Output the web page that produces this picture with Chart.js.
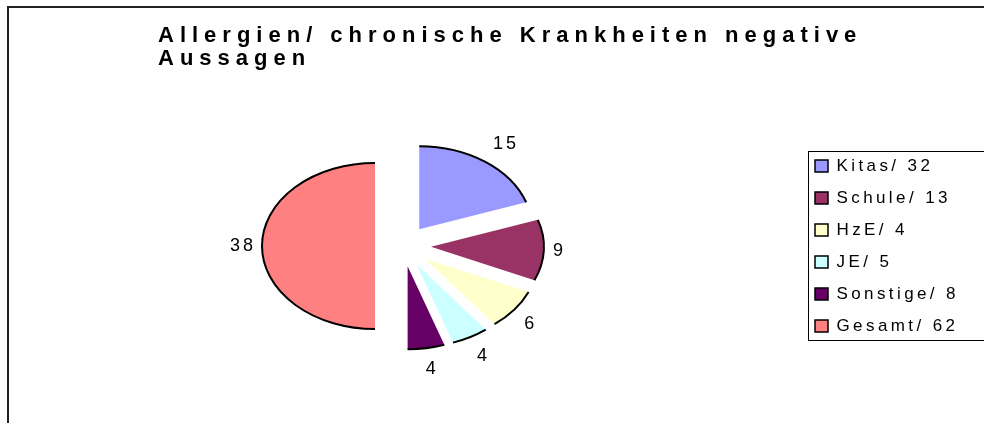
<!DOCTYPE html>
<html><head><meta charset="utf-8">
<script src="https://cdn.jsdelivr.net/npm/chart.js@4"></script>
<style>html,body{margin:0;padding:0;background:#fff;}canvas{display:block;}</style>
</head><body>
<canvas id="c" width="984" height="423"></canvas>
<script>
const titleLines = ['Allergien/ chronische Krankheiten negative', 'Aussagen'];
const categories = ['Kitas/ 32', 'Schule/ 13', 'HzE/ 4', 'JE/ 5', 'Sonstige/ 8', 'Gesamt/ 62'];
const values = [15, 9, 6, 4, 4, 38];
const sliceColors = ['#9999FF', '#993366', '#FFFFCC', '#CCFFFF', '#660066', '#FF8080'];

const FONT = '"Liberation Sans", Arial, Helvetica, sans-serif';
const SQUASH = 0.735;   // vertical flattening of the pie
const EXPLODE = 28;     // slice explosion distance
const RADIUS = 113;
const TITLE_X = 158;
const LEGEND_W = 184;
const LABEL_LS = 3;

function centerY(chart) { const a = chart.chartArea; return (a.top + a.bottom) / 2; }
function squash(ctx, cy) { ctx.translate(0, cy); ctx.scale(1, SQUASH); ctx.translate(0, -cy); }
function clamp1(v) { return Math.max(-1, Math.min(1, v)); }

const explodePlugin = {
  id: 'explode',
  beforeDatasetsDraw(chart) {
    const ctx = chart.ctx, cy = centerY(chart);
    chart.getDatasetMeta(0).data.forEach(arc => {
      const mid = (arc.startAngle + arc.endAngle) / 2;
      arc.$dx = Math.cos(mid) * EXPLODE; arc.$dy = Math.sin(mid) * EXPLODE;
      arc.x += arc.$dx; arc.y += arc.$dy;
    });
    ctx.save();
    squash(ctx, cy);
  },
  afterDatasetsDraw(chart) {
    const ctx = chart.ctx, cy = centerY(chart);
    ctx.restore();
    const arcs = chart.getDatasetMeta(0).data;
    arcs.forEach(arc => {
      ctx.save();
      squash(ctx, cy);
      ctx.beginPath();
      ctx.arc(arc.x, arc.y, arc.outerRadius, arc.startAngle, arc.endAngle);
      ctx.restore();
      ctx.save();
      ctx.lineWidth = 2; ctx.strokeStyle = '#000';
      ctx.stroke();
      ctx.restore();
    });
    ctx.save();
    ctx.font = '18px ' + FONT; ctx.fillStyle = '#000';
    ctx.textBaseline = 'middle'; ctx.textAlign = 'left';
    ctx.letterSpacing = LABEL_LS + 'px';
    arcs.forEach((arc, i) => {
      const mid = (arc.startAngle + arc.endAngle) / 2;
      const dx = Math.cos(mid), dy = Math.sin(mid);
      const sx = arc.x, sy = cy + SQUASH * (arc.y - cy);
      const ex = sx + arc.outerRadius * dx, ey = sy + SQUASH * arc.outerRadius * dy;
      const txt = String(values[i]);
      const w = ctx.measureText(txt).width - LABEL_LS;
      const h = 13;
      const g = 9 + 6 * Math.abs(dy);
      const lx = ex + dx * g + clamp1(dx * 2.5) * w / 2;
      const ly = ey + dy * g + clamp1(dy * 2.5) * h / 2;
      ctx.fillText(txt, lx - w / 2, ly);
    });
    ctx.restore();
    arcs.forEach(arc => { arc.x -= arc.$dx; arc.y -= arc.$dy; });
  }
};

const stylePlugin = {
  id: 'textStyle',
  beforeLayout(chart) {
    const lg = chart.legend;
    if (lg && !lg.$fitWrapped) {
      lg.$fitWrapped = true;
      const of = lg.fit;
      lg.fit = function () { of.apply(this, arguments); this.width = LEGEND_W; };
    }
  },
  beforeDraw(chart) {
    const ctx = chart.ctx;
    ctx.save(); ctx.fillStyle = '#fff'; ctx.fillRect(0, 0, chart.width, chart.height); ctx.restore();
    if (chart.$wrapped) return;
    chart.$wrapped = true;
    const tb = chart.titleBlock, lg = chart.legend;
    const td = tb.draw;
    tb.draw = function () {
      ctx.save(); ctx.translate(TITLE_X - this.left, 0); ctx.letterSpacing = '6px';
      td.apply(this, arguments); ctx.restore();
    };
    const ld = lg.draw;
    lg.draw = function () {
      ctx.save(); ctx.letterSpacing = '3.4px';
      ld.apply(this, arguments); ctx.restore();
    };
  },
  afterDraw(chart) {
    const ctx = chart.ctx, lg = chart.legend;
    ctx.save();
    ctx.lineWidth = 2; ctx.strokeStyle = '#222';
    ctx.strokeRect(8, 7, chart.width + 20, chart.height + 20);
    const lo = lg.options.labels;
    const pad = lo.padding, fs = lo.font.size || 16;
    const itemH = Math.max(fs, lo.boxHeight || fs);
    const colH = categories.length * (itemH + pad);
    const start = (lg.top + pad + lg.bottom - colH) / 2;
    const top = Math.round(start - 6) + 0.5;
    const bottom = Math.round(start + (categories.length - 1) * (itemH + pad) + itemH + 6) + 0.5;
    ctx.lineWidth = 1; ctx.strokeStyle = '#000';
    ctx.strokeRect(Math.round(lg.left + 8) + 0.5, top, chart.width + 20, bottom - top);
    ctx.restore();
  }
};

new Chart(document.getElementById('c'), {
  type: 'pie',
  data: {
    labels: categories,
    datasets: [{ data: values, backgroundColor: sliceColors, borderWidth: 0, radius: RADIUS }]
  },
  options: {
    responsive: false,
    animation: false,
    events: [],
    radius: RADIUS,
    layout: { padding: { left: 6, right: 0, top: 0, bottom: 1.9 } },
    plugins: {
      tooltip: { enabled: false },
      title: {
        display: true, text: titleLines, align: 'start', color: '#000',
        font: { family: FONT, size: 22, weight: 'bold', lineHeight: 1.045 },
        padding: { top: 24.9, bottom: 0 }
      },
      legend: {
        position: 'right', align: 'center', fullSize: false,
        labels: {
          color: '#000', boxWidth: 13, boxHeight: 12, padding: 15,
          font: { family: FONT, size: 17 },
          generateLabels(chart) {
            const items = Chart.overrides.doughnut.plugins.legend.labels.generateLabels(chart);
            return items.map(it => Object.assign(it, { lineWidth: 1.5, strokeStyle: '#000', fontColor: '#000' }));
          }
        }
      }
    }
  },
  plugins: [explodePlugin, stylePlugin]
});
</script>
</body></html>
